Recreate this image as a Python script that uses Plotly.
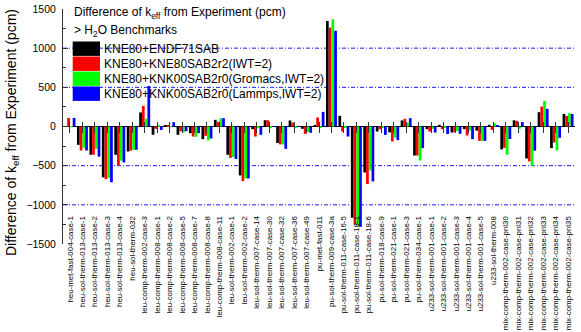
import plotly.graph_objects as go

categories = [
    "heu-met-fast-004-case-1", "heu-sol-therm-013-case-1", "heu-sol-therm-013-case-2",
    "heu-sol-therm-013-case-3", "heu-sol-therm-013-case-4", "heu-sol-therm-032",
    "leu-comp-therm-002-case-3", "leu-comp-therm-008-case-1", "leu-comp-therm-008-case-2",
    "leu-comp-therm-008-case-5", "leu-comp-therm-008-case-7", "leu-comp-therm-008-case-8",
    "leu-comp-therm-008-case-11", "leu-sol-therm-002-case-1", "leu-sol-therm-002-case-2",
    "leu-sol-therm-007-case-14", "leu-sol-therm-007-case-30", "leu-sol-therm-007-case-32",
    "leu-sol-therm-007-case-36", "leu-sol-therm-007-case-49", "pu-met-fast-011",
    "pu-sol-therm-009-case-3a", "pu-sol-therm-011-case-16-5", "pu-sol-therm-011-case-18-1",
    "pu-sol-therm-011-case-18-6", "pu-sol-therm-018-case-9", "pu-sol-therm-021-case-1",
    "pu-sol-therm-021-case-3", "pu-sol-therm-034-case-1", "u233-sol-therm-001-case-1",
    "u233-sol-therm-001-case-2", "u233-sol-therm-001-case-3", "u233-sol-therm-001-case-4",
    "u233-sol-therm-001-case-5", "u233-sol-therm-008", "mix-comp-therm-002-case-pnl30",
    "mix-comp-therm-002-case-pnl31", "mix-comp-therm-002-case-pnl32",
    "mix-comp-therm-002-case-pnl33", "mix-comp-therm-002-case-pnl34",
    "mix-comp-therm-002-case-pnl35",
]

endf71sab = [3, -234, -360, -650, -361, -319, 180, -106, 15, -106, -85, -161, 85, -361, -625,
             -34, 80, -210, 77, -30, 20, 1347, 136, -1165, -587, -64, -75, 77, -370, -34,
             21, -77, -34, -53, 21, -293, 79, -408, 183, -276, 161]
kne80sab = [110, -306, -360, -670, -497, -308, 263, -30, 8, -60, -128, -119, 60, -400, -697,
            -128, 80, -228, 50, -95, 115, 1262, -64, -1250, -735, -35, -191, 98, -370, -64,
            -34, -72, -115, -183, -43, -272, 72, -446, 255, -204, 136]
gromacs = [3, -272, -285, -655, -436, -297, 100, 20, -5, -75, -132, -178, 105, -390, -663,
           -20, -22, -230, -15, -70, -18, 1368, -20, -1265, -561, -15, -142, 50, -435, -30,
           -13, -60, -50, -185, 42, -361, -28, -501, 327, -306, 170]
lammps = [110, -306, -385, -712, -459, -297, 518, -45, 55, -60, -85, -153, 106, -415, -663,
          -106, -5, -285, -5, -80, 187, 1222, -128, -1280, -701, -108, -174, 106, -276, -77,
          -96, -94, -161, -183, 8, -159, 57, -308, 225, -145, 161]

series_names = ["KNE80+ENDF71SAB", "KNE80+KNE80SAB2r2(IWT=2)",
                "KNE80+KNK00SAB2r0(Gromacs,IWT=2)", "KNE80+KNK00SAB2r0(Lammps,IWT=2)"]
series_values = [endf71sab, kne80sab, gromacs, lammps]
series_colors = ["#000000", "#ff0000", "#00ff00", "#0000ff"]

y_ticks = [-1500, -1000, -500, 0, 500, 1000, 1500]
grid_values = [-1000, -500, 500, 1000]

chart_title = "Difference of k<sub>eff</sub> from Experiment (pcm)"
chart_subtitle = "> H<sub>2</sub>O Benchmarks"
y_title = "Difference of k<sub>eff</sub> from Experiment (pcm)"

FONT = "Liberation Sans, Arial, sans-serif"
W, H = 581, 332
PLOT_L, PLOT_R, PLOT_T, PLOT_B = 63, 575, 9, 244
ML, MT, MR, MB = PLOT_L, PLOT_T, W - PLOT_R, H - PLOT_B
PW, PH = PLOT_R - PLOT_L, PLOT_B - PLOT_T

fig = go.Figure()
for name, vals, col in zip(series_names, series_values, series_colors):
    fig.add_trace(go.Bar(x=categories, y=vals, name=name,
                         marker=dict(color=col, line=dict(width=0)),
                         showlegend=False))

def px_x(X):
    return (X - PLOT_L) / PW

def px_y(Y):
    return (PLOT_B - Y) / PH

shapes = []
for g in grid_values:
    shapes.append(dict(type="line", xref="paper", yref="y", x0=0, x1=1, y0=g, y1=g,
                       line=dict(color="#1a1aff", width=1, dash="4px,2px,1px,2px"),
                       layer="below"))

annotations = []
sw_x0, sw_x1 = 72.7, 100
sw_top, sw_h, sw_step = 41.5, 14.4, 15
for i, (name, col) in enumerate(zip(series_names, series_colors)):
    t = sw_top + i * sw_step
    shapes.append(dict(type="rect", xref="paper", yref="paper",
                       x0=px_x(sw_x0), x1=px_x(sw_x1), y0=px_y(t + sw_h), y1=px_y(t),
                       fillcolor=col, line=dict(width=0), layer="above"))
    annotations.append(dict(xref="paper", yref="paper", x=px_x(102), y=px_y(t + sw_h / 2),
                            text=name, showarrow=False, xanchor="left", yanchor="middle",
                            font=dict(family=FONT, size=12, color="black")))

annotations.append(dict(xref="paper", yref="paper", x=px_x(71.5), y=px_y(13.5),
                        text=chart_title, showarrow=False, xanchor="left", yanchor="middle",
                        font=dict(family=FONT, size=12, color="black")))
annotations.append(dict(xref="paper", yref="paper", x=px_x(71.5), y=px_y(31),
                        text=chart_subtitle, showarrow=False, xanchor="left", yanchor="middle",
                        font=dict(family=FONT, size=12, color="black")))
annotations.append(dict(xref="paper", yref="paper", x=px_x(12), y=px_y(133),
                        text=y_title, showarrow=False, textangle=-90,
                        xanchor="center", yanchor="middle",
                        font=dict(family=FONT, size=14, color="black")))

fig.update_layout(
    width=W, height=H,
    margin=dict(l=ML, r=MR, t=MT, b=MB, pad=0),
    paper_bgcolor="white", plot_bgcolor="white",
    barmode="group", bargap=0.12, bargroupgap=0,
    font=dict(family=FONT, color="black"),
    shapes=shapes, annotations=annotations,
    showlegend=False,
    xaxis=dict(type="category", range=[-0.56, 40.56], anchor="free",
               position=0.5 + 5.5 / PH, showline=False, showgrid=False, zeroline=False,
               ticks="outside", ticklen=11, tickwidth=1, tickcolor="#333333",
               tickangle=-90, tickfont=dict(family=FONT, size=7.9, color="black"),
               ticklabelstandoff=80, automargin=False),
    yaxis=dict(range=[-1500, 1500], tickvals=y_ticks, showgrid=False,
               zeroline=True, zerolinecolor="#000000", zerolinewidth=1,
               showline=True, linecolor="#333333", linewidth=1,
               ticks="inside", ticklen=5, tickcolor="#333333",
               minor=dict(ticks="inside", ticklen=3, dtick=250, tickcolor="#333333"),
               tickfont=dict(family=FONT, size=10.5, color="black"),
               ticklabelstandoff=4, automargin=False),
)

fig.write_html("out.html",
               config={"displayModeBar": False},
               post_script="document.body.style.margin='0';document.body.style.overflow='hidden';")
